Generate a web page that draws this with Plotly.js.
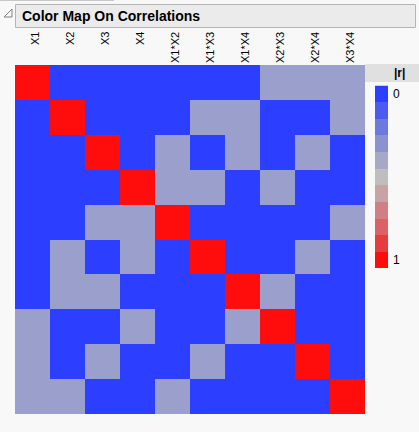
<!DOCTYPE html>
<html>
<head>
<meta charset="utf-8">
<script src="https://cdn.plot.ly/plotly-3.0.1.min.js"></script>
<style>
html,body{margin:0;padding:0;background:#F8F8F8;}
#chart{width:419px;height:432px;}
</style>
</head>
<body>
<div id="chart"></div>
<script>
// Terms (rows and columns)
var terms = ["X1","X2","X3","X4","X1*X2","X1*X3","X1*X4","X2*X3","X2*X4","X3*X4"];
// |r| values, one row per term
var rowX1   = [1,0,0,0,0,0,0,0.33,0.33,0.33];
var rowX2   = [0,1,0,0,0,0.33,0.33,0,0,0.33];
var rowX3   = [0,0,1,0,0.33,0,0.33,0,0.33,0];
var rowX4   = [0,0,0,1,0.33,0.33,0,0.33,0,0];
var rowX1X2 = [0,0,0.33,0.33,1,0,0,0,0,0.33];
var rowX1X3 = [0,0.33,0,0.33,0,1,0,0,0.33,0];
var rowX1X4 = [0,0.33,0.33,0,0,0,1,0.33,0,0];
var rowX2X3 = [0.33,0,0,0.33,0,0,0.33,1,0,0];
var rowX2X4 = [0.33,0,0.33,0,0,0.33,0,0,1,0];
var rowX3X4 = [0.33,0.33,0,0,0.33,0,0,0,0,1];
// Legend levels
var legendLevels = [0,0.1,0.2,0.3,0.4,0.5,0.6,0.7,0.8,0.9,1];
var legendLabels = ["0","1"];

var W = 419, H = 432;
function px(x){return x/W;}
function py(y){return 1 - y/H;}

var colorscale = [
  [0.0,"#2C3EFF"],[0.1,"#4B5BEE"],[0.2,"#6C79DE"],[0.3,"#8B93CF"],
  [0.33,"#9A9FCB"],[0.4,"#A6A9C5"],[0.5,"#BEBEBE"],[0.6,"#C7A3A5"],
  [0.7,"#D08084"],[0.8,"#DA6264"],[0.9,"#E73C3D"],[1.0,"#FF0D0D"]
];

var z = [rowX1,rowX2,rowX3,rowX4,rowX1X2,rowX1X3,rowX1X4,rowX2X3,rowX2X4,rowX3X4];

var main = {
  type:"heatmap", x:terms, y:terms, z:z,
  colorscale:colorscale, zmin:0, zmax:1, showscale:false,
  xgap:0, ygap:0, hoverinfo:"x+y+z",
  xaxis:"x", yaxis:"y"
};

var legZ = legendLevels.map(function(v){return [v];});
var legend = {
  type:"heatmap", z:legZ, x:[0], y:legendLevels.map(function(v,i){return i;}),
  colorscale:colorscale, zmin:0, zmax:1, showscale:false,
  xaxis:"x2", yaxis:"y2", hoverinfo:"z"
};

var annotations = terms.map(function(t,i){
  return {
    xref:"x", yref:"paper", x:t, y:py(30), xanchor:"center", yanchor:"top",
    text:t, showarrow:false, textangle:-90, xshift:3,
    font:{family:"Liberation Sans, Arial, sans-serif", size:11, color:"#000"}
  };
});
annotations.push({
  xref:"paper", yref:"paper", x:px(20), y:py(15.5), xanchor:"left", yanchor:"middle",
  text:"<b>Color Map On Correlations</b>", showarrow:false,
  font:{family:"Liberation Sans, Arial, sans-serif", size:14, color:"#000"}
});
annotations.push({
  xref:"paper", yref:"paper", x:px(399), y:py(73), xanchor:"center", yanchor:"middle",
  text:"<b>|r|</b>", showarrow:false,
  font:{family:"Liberation Sans, Arial, sans-serif", size:12, color:"#000"}
});
annotations.push({
  xref:"x2", yref:"y2", x:0.5, y:0, xanchor:"left", yanchor:"middle", xshift:3,
  text:legendLabels[0], showarrow:false,
  font:{family:"Liberation Sans, Arial, sans-serif", size:12, color:"#000"}
});
annotations.push({
  xref:"x2", yref:"y2", x:0.5, y:legendLevels.length-1, xanchor:"left", yanchor:"middle", xshift:3,
  text:legendLabels[1], showarrow:false,
  font:{family:"Liberation Sans, Arial, sans-serif", size:12, color:"#000"}
});

var shapes = [
  {type:"line", xref:"paper", yref:"paper", x0:0, x1:px(114), y0:py(0.5), y1:py(0.5),
   line:{color:"#C8C8C8", width:1}},
  {type:"rect", xref:"paper", yref:"paper", x0:px(15.5), x1:px(415.5), y0:py(4.5), y1:py(27.5),
   fillcolor:"#EBEBEB", line:{color:"#B4B4B4", width:1}, layer:"below"},
  {type:"path", xref:"paper", yref:"paper",
   path:"M "+px(12)+","+py(9)+" L "+px(12)+","+py(17)+" L "+px(4)+","+py(17)+" Z",
   fillcolor:"rgba(0,0,0,0)", line:{color:"#808080", width:1}},
  {type:"rect", xref:"paper", yref:"paper", x0:px(365), x1:px(419), y0:py(64), y1:py(82),
   fillcolor:"#E0E0E0", line:{width:0}, layer:"below"}
];

var layout = {
  width:W, height:H, margin:{l:0,r:0,t:0,b:0},
  paper_bgcolor:"#F8F8F8", plot_bgcolor:"#F8F8F8",
  showlegend:false,
  xaxis:{domain:[px(15),px(365)], showticklabels:false, ticks:"", showgrid:false, zeroline:false,
         showline:false, type:"category", fixedrange:true},
  yaxis:{domain:[py(414),py(65)], showticklabels:false, ticks:"", showgrid:false, zeroline:false,
         showline:false, type:"category", autorange:"reversed", fixedrange:true},
  xaxis2:{domain:[px(375),px(388)], range:[-0.5,0.5], showticklabels:false, ticks:"", showgrid:false,
          zeroline:false, showline:false, fixedrange:true, anchor:"y2"},
  yaxis2:{domain:[py(268),py(85.5)], range:[10.5,-0.5], autorange:false, showticklabels:false, ticks:"", showgrid:false,
          zeroline:false, showline:false, fixedrange:true, anchor:"x2"},
  annotations:annotations, shapes:shapes
};

Plotly.newPlot("chart",[main,legend],layout,{displayModeBar:false,staticPlot:true});
</script>
</body>
</html>
